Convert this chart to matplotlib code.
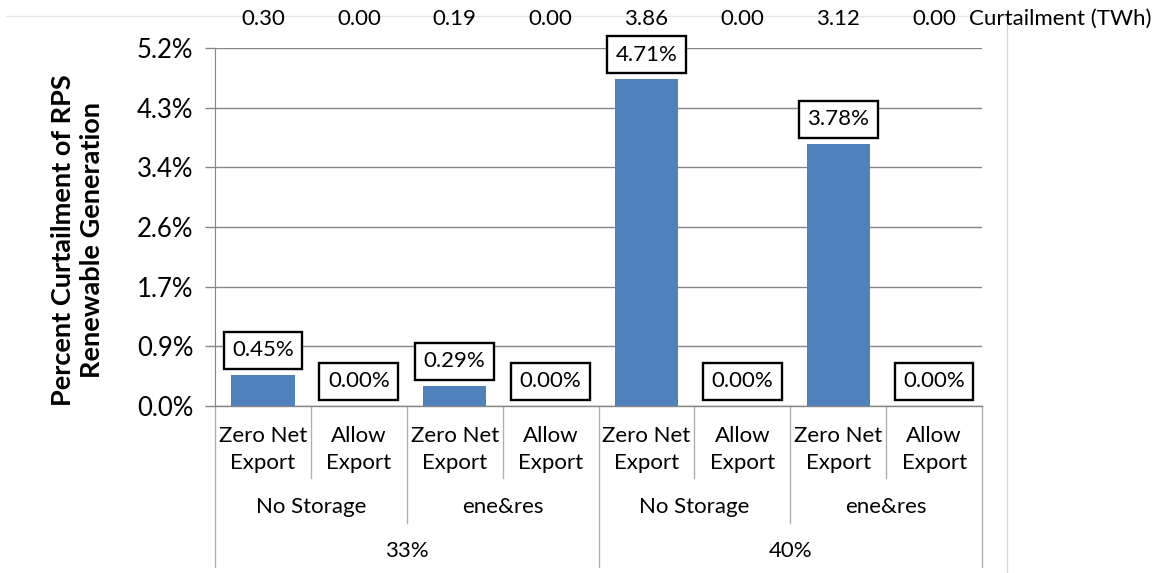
import numpy as np
import matplotlib
matplotlib.use("Agg")
import matplotlib.pyplot as plt
from matplotlib.transforms import blended_transform_factory

plt.rcParams['font.family'] = ['Lato', 'DejaVu Sans']

# Data
scenario_labels = ["Zero Net\nExport", "Allow\nExport"] * 4
storage_labels = ["No Storage", "ene&res", "No Storage", "ene&res"]
rps_labels = ["33%", "40%"]
pct_curtailment = [0.45, 0.00, 0.29, 0.00, 4.71, 0.00, 3.78, 0.00]
twh_curtailment = [0.30, 0.00, 0.19, 0.00, 3.86, 0.00, 3.12, 0.00]
y_max = 5.16

W, H = 1164, 573
fig = plt.figure(figsize=(W / 100, H / 100), dpi=100)

def fy(py):
    return 1 - py / H

left, right, top, bottom = 215, 982, 48, 406
ax = fig.add_axes([left / W, fy(bottom), (right - left) / W, (bottom - top) / H])

x = np.arange(len(pct_curtailment))
ax.bar(x, pct_curtailment, width=0.66, color="#4F81BD", zorder=3)
ax.set_xlim(-0.5, len(x) - 0.5)
ax.set_ylim(0, y_max)

yt = np.linspace(0, y_max, 7)
ax.set_yticks(yt)
ax.set_yticklabels([f"{v:.1f}%" for v in yt], fontsize=18.5, color="#000000")
ax.tick_params(axis="y", length=7.5, width=1, color="#868686", pad=8)
ax.set_xticks([])
ax.grid(axis="y", color="#868686", lw=1, zorder=0)
for s in ["top", "right", "bottom"]:
    ax.spines[s].set_visible(False)
ax.spines["left"].set_color("#868686")
ax.axhline(0, color="#868686", lw=1, zorder=4, clip_on=False)

# value labels in boxes
for xi, v in zip(x, pct_curtailment):
    ax.annotate(f"{v:.2f}%", (xi, v), xytext=(0, 10.5), textcoords="offset points",
                ha="center", va="bottom", fontsize=16, zorder=5,
                bbox=dict(boxstyle="square,pad=0.38", fc="white", ec="black", lw=1.7))

tr = blended_transform_factory(ax.transData, fig.transFigure)

# curtailment energy row across the top
for xi, v in zip(x, twh_curtailment):
    ax.text(xi, fy(19), f"{v:.2f}", transform=tr, ha="center", va="center", fontsize=16)
fig.text(969 / W, fy(19), "Curtailment (TWh)", ha="left", va="center", fontsize=16)

# faint frame lines
fig.add_artist(plt.Line2D([6 / W, 1007 / W], [fy(16), fy(16)], color="#e6e6e6", lw=1, zorder=0))
fig.add_artist(plt.Line2D([1007 / W, 1007 / W], [fy(22), fy(573)], color="#d9d9d9", lw=1, zorder=0))

# multi-level category axis
sep_color = "#b0b0b0"
for xs in [0.5, 2.5, 4.5, 6.5]:
    ax.plot([xs, xs], [fy(406), fy(478)], transform=tr, color=sep_color, lw=1, clip_on=False)
for xs in [1.5, 5.5]:
    ax.plot([xs, xs], [fy(406), fy(523)], transform=tr, color=sep_color, lw=1, clip_on=False)
for xs in [-0.5, 3.5, 7.5]:
    ax.plot([xs, xs], [fy(406), fy(567)], transform=tr, color=sep_color, lw=1, clip_on=False)

for xi, lab in zip(x, scenario_labels):
    l1, l2 = lab.split("\n")
    ax.text(xi, fy(436), l1, transform=tr, ha="center", va="center", fontsize=16)
    ax.text(xi, fy(463), l2, transform=tr, ha="center", va="center", fontsize=16)
for i, lab in enumerate(storage_labels):
    ax.text(2 * i + 0.5, fy(507), lab, transform=tr, ha="center", va="center", fontsize=16)
for i, lab in enumerate(rps_labels):
    ax.text(4 * i + 1.5, fy(551), lab, transform=tr, ha="center", va="center", fontsize=16)

fig.text(78 / W, fy(240), "Percent Curtailment of RPS\nRenewable Generation", rotation=90,
         ha="center", va="center", multialignment="center", fontsize=19.5, fontweight="bold",
         linespacing=1.25)

fig.savefig("out.png", dpi=100)
